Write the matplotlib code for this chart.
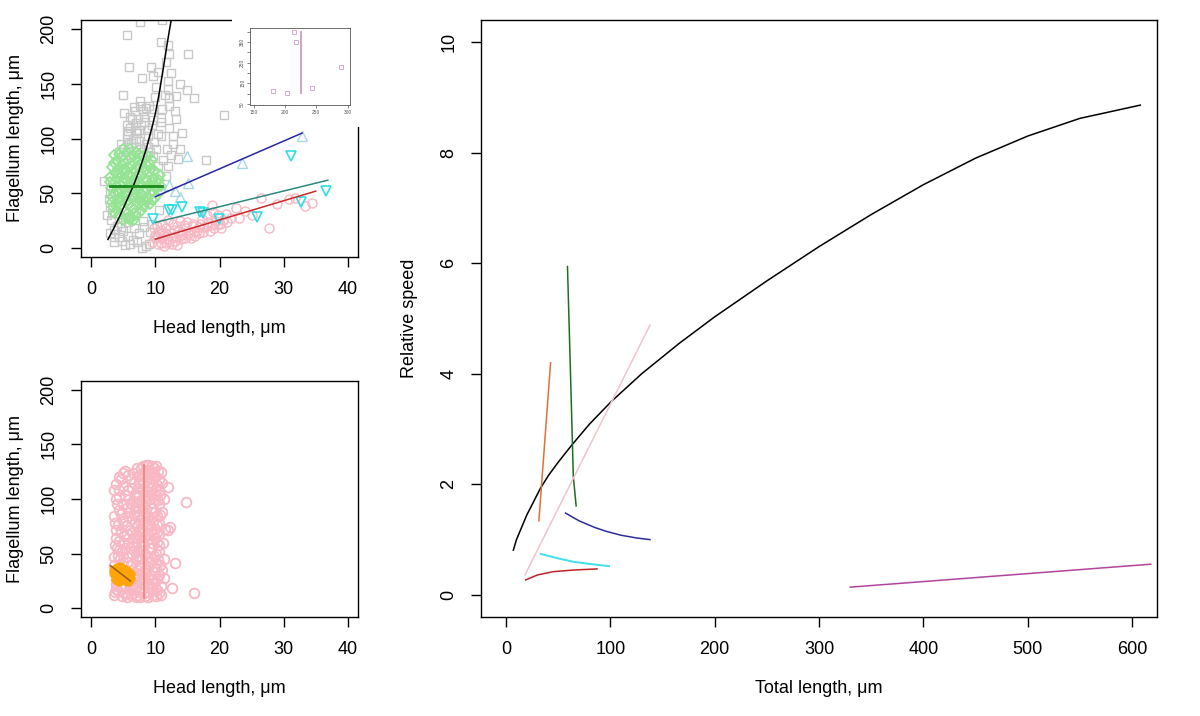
import numpy as np
import matplotlib
matplotlib.use("Agg")
import matplotlib.pyplot as plt

plt.rcParams['font.family'] = ['Liberation Sans', 'DejaVu Sans']

W, H = 1200, 716

# ---- top-left panel data (head length, flagellum length) ----
gray_sq = [(7.6,206),(11.0,208),(5.6,194.5),(15.1,177),(12.0,185),(12.2,177),(11.7,170),(5.9,165),
           (10.4,161),(9.6,157),(7.9,155),(12.0,152.6),(13.9,149.5),(14.9,144),(16.0,137),(13.2,139),
           (12.0,145),(12.1,137),(12.1,130),(10.1,146.5),(4.9,140),(7.6,134.6),(11.0,127),(5.1,123.5),
           (20.75,121),(6.7,129),(8.0,125),(9.6,126.6),(10.9,119),(12.1,110),(9.6,117),(5.7,106.7),
           (7.0,114),(7.5,108),(12.7,102),(10.4,103.7),(8.8,102),(9.8,96.6),(10.9,102),(10.1,90),
           (9.6,84),(12.4,85),(13.9,90),(10.4,74.6),(12.0,74.6),(17.9,80),(13.5,81),(2.0,61.5),
           (11.7,66),(9.0,70),(9.8,53),(9.3,44),(3.0,38),(3.3,32),(3.1,25.7),(7.75,39.4),(7.0,33),
           (5.2,28.7),(5.7,24),(3.6,16.5),(4.6,19.5),(6.7,18),(8.3,19.5),(9.1,15),(4.4,10.4),(5.7,11),
           (3.6,5.8),(5.2,2.8),(6.5,7.3),(7.9,0.6),(9.0,4.3),(9.9,11),(7.5,13.5),
           (5.0,90),(5.8,95),(6.5,100),(7.2,105),(6.0,110),(7.8,112),(8.5,95),(7.0,92),(6.4,118),
           (8.2,120),(5.5,100),(8.8,108),(9.5,112),(6.8,125),(7.4,98),(5.2,85),(8.0,88),(4.6,95),
           (9.2,88),(7.6,130),(6.2,85),(4.0,20),(3.5,10),(6.0,4),(4.8,7),(8.5,2),(7.2,6),(3.0,14),
           (5.0,16),(8.0,25),(9.5,22),(2.5,30),(9.6,60),(3.0,50),(2.7,45),(10.5,35),(11.2,80),
           (11.8,90),(12.8,95),(10.8,115),(11.5,140),(13.0,125),(9.3,165),(10.8,188),(12.4,160),
           (13.2,118),(14.2,105),(6.0,120),(8.3,115),(7.0,100),(9.0,130),(5.5,112),
           (6.2,96),(7.3,118),(8.6,128),(5.6,104),(6.9,108),(8.9,92),(4.3,88),(7.7,90),(9.9,138)]

green_dm = [(3.5,85),(4.0,80),(4.6,83),(5.2,78),(6.0,82),(7.0,80),(8.0,84),(9.0,78),(3.2,74),(4.2,72),
            (5.0,70),(5.8,74),(6.6,71),(7.5,73),(8.4,70),(9.3,72),(9.9,70),(10.7,67),(3.0,65),(3.8,63),
            (4.6,66),(5.4,62),(6.2,65),(7.0,62),(7.8,66),(8.6,63),(9.4,61),(10.2,60),(3.1,55),(3.9,57),
            (4.7,53),(5.5,56),(6.3,52),(7.1,55),(7.9,58),(8.7,54),(9.5,52),(10.3,55),(10.9,57),(3.3,47),
            (4.1,45),(4.9,48),(5.7,44),(6.5,47),(7.3,45),(8.1,48),(8.9,46),(9.6,44),(3.4,38),(4.2,40),
            (5.0,37),(5.8,39),(6.6,36),(7.4,40),(8.2,38),(3.6,32),(4.4,30),(5.2,34),(6.0,28),(6.6,32),
            (6.0,25.7),(5.6,42),(4.5,58),(6.8,60),(7.6,50),(5.3,50),(4.0,52),(8.5,60),(6.4,76),(4.8,76),
            (7.3,68),(5.9,66),(3.7,69),(9.8,64),(8.8,75),(7.0,88),(5.5,88),(4.3,50),(6.1,57),(7.7,43),
            (5.0,60),(8.3,52),(6.8,50),(4.4,64),(7.2,75),(5.6,70),
            (3.0,60),(3.6,78),(4.4,86),(5.0,90),(6.0,90),(7.5,86),(8.8,84),(9.5,80),(10.5,62),(10.8,52),
            (10.0,46),(9.2,40),(8.5,42),(7.8,34),(7.0,30),(6.6,26),(5.5,28),(4.9,26),(4.0,35),(3.2,42),
            (4.1,68),(4.9,72),(5.7,80),(6.7,84),(7.8,78),(8.2,74),(6.9,66),(5.8,49),(6.9,42),(7.5,57),
            (8.9,58),(9.8,56),(4.6,44),(3.6,50),(5.2,64),(6.3,61)]

pink_ci = [(9.5,6),(10.2,9),(10.8,5),(11.3,12),(11.9,8),(12.5,14),(13.0,10),(13.6,16),(14.2,12),
           (14.8,18),(15.3,14),(15.9,20),(16.5,16),(17.0,22),(17.6,19),(18.2,24),(18.8,21),(19.4,25),
           (20.0,22),(20.6,26),(21.2,24),(21.8,28),(10.5,15),(11.6,18),(12.2,6),(13.3,20),(14.0,8),
           (15.0,24),(16.2,11),(17.3,27),(18.5,16),(19.8,30),(10.0,12),(12.8,22),(14.5,21),(16.8,14),
           (11.0,22),(13.8,25),(15.6,9),(18.0,30),(19.0,33),(20.2,18),(20.6,25.7),(18.8,39.4),
           (22.5,36.4),(26.4,45.5),(27.7,18),(30.8,44.7),(33.3,38.5),(34.5,41.6),(24.0,34),(25.0,30),
           (23.0,28),(29.0,40),(31.8,46),(12.0,26),(9.8,18),(21.0,31),
           (10.4,4),(11.0,9),(11.7,5),(12.4,10),(13.1,7),(13.8,12),(14.6,9),(15.4,12),(16.0,16),
           (16.8,19),(17.4,15),(18.0,20),(19.1,18),(19.7,22),(10.3,20),(11.5,14),(12.9,17),(14.1,15),
           (15.8,22),(12.6,4),(13.4,3),(11.4,2),(9.9,9),(10.9,17)]

tri_up = [(12.1,58),(13.0,52),(13.8,47),(15.0,84),(15.1,59),(23.5,78),(32.8,102)]
tri_dn = [(9.7,26.6),(12.1,35),(12.6,35),(14.2,38),(17.0,33.3),(17.5,31.8),(19.9,27),(25.9,28.7),
          (31.1,84.4),(32.7,42.5),(36.6,52)]

fit_black_x = [2.6, 3.5, 4.5, 5.5, 6.5, 7.3, 8.0, 8.6, 9.1, 9.6, 10.0, 10.5, 10.9, 11.4, 11.8, 12.2, 12.5]
fit_black_y = [8, 18, 30, 43, 56, 68, 80, 91, 102, 113, 123, 138, 152, 170, 185, 199, 209]
fit_green_x, fit_green_y = [3.0, 11.1], [57, 57]
fit_blue_x, fit_blue_y = [10, 32.9], [47, 105]
fit_teal_x, fit_teal_y = [10, 36.9], [23.5, 62]
fit_red_x, fit_red_y = [10, 35], [8.3, 52]

# ---- inset ----
inset_pts = [(180,111),(203,102),(215,397),(217,351),(243,126),(290,230)]
inset_line_x, inset_line_y = [225, 225], [105, 400]

# ---- bottom-left panel ----
pink_bl = [(7.2,12),(7.8,18),(8.4,11),(9.0,15),(9.6,12),(10.2,17),(7.4,25),(8.1,28),(8.8,22),(9.4,27),
           (10.0,24),(10.5,30),(7.1,35),(7.7,40),(8.5,36),(9.2,42),(9.8,38),(10.4,44),(7.3,48),(8.0,52),
           (8.7,47),(9.5,55),(10.1,50),(7.0,60),(7.6,65),(8.3,58),(9.0,63),(9.7,68),(10.3,61),(7.4,72),
           (8.1,77),(8.9,74),(9.6,80),(10.2,76),(7.2,85),(7.9,90),(8.6,86),(9.3,92),(10.0,88),(10.6,95),
           (7.5,98),(8.2,103),(9.0,100),(9.8,105),(10.4,99),(7.3,110),(8.0,115),(8.8,112),(9.5,118),
           (10.2,113),(7.6,122),(8.4,126),(9.1,124),(9.8,128),(8.0,130),(8.8,131),(7.5,15),(8.6,32),
           (9.9,33),(7.8,57),(9.3,70),(8.0,84),(9.7,96),(8.5,107),(7.7,118),(10.0,121),(9.2,20),(7.9,45),
           (10.6,58),(8.4,66),(10.7,85),(7.0,20),(10.8,12),(7.1,92),(10.5,108),(9.1,82),(8.3,94),
           (9.4,110),(7.4,104),(10.3,70),(8.7,120),(7.2,128),(9.5,130),(10.4,126),
           (7.0,10),(7.6,10),(8.2,14),(8.9,10),(9.5,18),(10.1,11),(10.6,14),(7.3,30),(7.9,23),(8.5,25),
           (9.1,30),(9.7,22),(10.3,27),(7.5,37),(8.1,33),(8.9,38),(9.5,45),(10.1,37),(10.7,40),(7.1,52),
           (7.6,46),(8.4,50),(9.0,55),(9.8,48),(10.5,52),(7.3,64),(8.0,62),(8.7,68),(9.4,60),(10.0,64),
           (10.6,68),(7.1,75),(7.8,70),(8.5,80),(9.2,76),(9.9,73),(10.5,78),(7.5,81),(8.2,88),(8.9,84),
           (9.6,88),(10.3,84),(7.0,97),(7.7,95),(8.6,98),(9.3,104),(10.0,100),(10.7,104),(7.1,104),
           (7.9,108),(8.7,104),(9.6,113),(10.1,108),(7.4,115),(8.3,120),(9.1,116),(9.8,122),(10.5,118),
           (7.3,121),(8.1,124),(8.9,127),(9.6,125),(10.1,130),(8.5,131),(7.7,128),
           (3.6,12),(4.2,16),(4.8,11),(5.5,14),(6.2,12),(6.8,17),(3.8,22),(4.5,45),(5.2,20),(5.9,24),
           (6.6,22),(3.5,40),(4.1,48),(4.8,52),(5.6,47),(6.3,50),(6.9,45),(3.7,58),(4.4,62),(5.1,66),
           (5.8,60),(6.5,64),(3.9,72),(4.6,70),(5.4,75),(6.1,72),(6.8,78),(3.5,84),(4.3,90),(5.0,95),
           (6.0,88),(6.6,97),(3.8,100),(4.4,108),(5.2,104),(6.4,110),(3.9,114),(4.6,118),(5.3,126),
           (4.4,120),(6.2,118),(3.7,78),(5.7,84),(4.0,30),(6.4,35),(6.7,28),(5.0,42),(6.0,55),(4.0,55),
           (6.9,68),(6.3,82),(5.9,100),(6.8,105),(6.5,124),(3.8,18),(5.6,10),
           (3.7,15),(4.5,20),(5.2,13),(6.0,18),(6.5,14),(3.9,26),(4.8,40),(5.5,42),(6.2,40),(3.6,47),
           (4.4,53),(5.3,55),(6.5,57),(3.8,64),(4.9,60),(5.6,68),(6.3,70),(4.2,76),(5.0,80),(6.6,85),
           (4.7,86),(5.5,92),(6.2,95),(4.0,95),(6.8,92),(5.0,112),(5.8,108),(4.3,102),(4.9,124),
           (3.6,108),(5.8,122),(6.6,115),
           (10.8,20),(11.0,35),(11.2,60),(11.5,73),(11.9,111),(12.3,74),(12.0,72),(12.6,19),(13.0,41),
           (14.7,97),(16.1,14),(11.3,100),(11.1,115),(10.9,125),(11.4,45),(11.0,88),(11.3,28)]
orange_pts = [(3.5,35),(4.0,37),(4.5,34),(5.0,33),(5.5,30),(6.0,28),(3.8,30),(4.3,29),(4.8,27),(5.3,26),
              (5.8,25),(4.2,32),(4.7,31),(5.2,29),(3.6,32),(4.5,38),(5.0,36),(5.5,34),(3.9,27),(4.4,25),
              (6.1,31)]
salmon_x, salmon_y = [8.3, 8.3], [9, 131]
orange_fit_x, orange_fit_y = [3.0, 6.1], [39, 25]

# ---- right panel: relative speed vs total length ----
sp_black_x = [7, 10, 14, 20, 26, 33, 41, 50, 63, 80, 101, 130, 166, 200, 250, 300, 350, 400, 450, 500, 550, 608]
sp_black_y = [0.81, 1.0, 1.18, 1.45, 1.67, 1.93, 2.17, 2.4, 2.71, 3.09, 3.5, 4.0, 4.55, 5.03, 5.68, 6.3,
              6.88, 7.42, 7.9, 8.3, 8.62, 8.86]
sp_orange_x, sp_orange_y = [31.5, 42.7], [1.34, 4.2]
sp_dgreen_x, sp_dgreen_y = [58.9, 61.8, 64.5, 67.2], [5.94, 4.0, 2.14, 1.61]
sp_pink_x, sp_pink_y = [18.1, 138], [0.36, 4.88]
sp_navy_x, sp_navy_y = [57, 70, 85, 96, 110, 125, 138], [1.48, 1.34, 1.22, 1.15, 1.08, 1.03, 1.0]
sp_cyan_x, sp_cyan_y = [33.4, 50, 64.3, 80, 98.7], [0.74, 0.66, 0.60, 0.56, 0.52]
sp_dred_x, sp_dred_y = [18.8, 30, 45.2, 65, 87.2], [0.27, 0.36, 0.42, 0.45, 0.47]
sp_purple_x, sp_purple_y = [330, 618], [0.14, 0.555]


def px_axes(l, t, r, b, **kw):
    return fig.add_axes([l / W, 1 - b / H, (r - l) / W, (b - t) / H], **kw)


def r_style(ax, fs=13, pad=10):
    for s in ax.spines.values():
        s.set_linewidth(1.0)
    ax.tick_params(direction='out', length=7, width=1, labelsize=fs, pad=pad)
    ax.tick_params(axis='y', labelrotation=90)
    for lab in ax.get_yticklabels():
        lab.set_va('center')


def xy(pts):
    return [p[0] for p in pts], [p[1] for p in pts]


fig = plt.figure(figsize=(W / 100, H / 100), dpi=100)

# top-left
ax1 = px_axes(81, 20, 358, 257)
x, y = xy(gray_sq)
ax1.plot(x, y, 's', ms=6, mfc='none', mec='#C8C8C8', mew=1)
x, y = xy(green_dm)
ax1.plot(x, y, 'D', ms=5.5, mfc='none', mec='#94E494', mew=1.3)
x, y = xy(pink_ci)
ax1.plot(x, y, 'o', ms=6.5, mfc='none', mec='#F7B8C4', mew=1)
x, y = xy(tri_up)
ax1.plot(x, y, '^', ms=7, mfc='none', mec='#A8D8E8', mew=1)
x, y = xy(tri_dn)
ax1.plot(x, y, 'v', ms=7, mfc='none', mec='#30DDE4', mew=1.2)
ax1.plot(fit_black_x, fit_black_y, color='black', lw=1.1)
ax1.plot(fit_green_x, fit_green_y, color='#1C8A1C', lw=2)
ax1.plot(fit_blue_x, fit_blue_y, color='#2626A8', lw=1.1)
ax1.plot(fit_teal_x, fit_teal_y, color='#2B8A7C', lw=1.1)
ax1.plot(fit_red_x, fit_red_y, color='#C82828', lw=1.1)
ax1.set_xlim(-1.6, 41.6)
ax1.set_ylim(-8, 208)
ax1.set_xticks([0, 10, 20, 30, 40])
ax1.set_yticks([0, 50, 100, 150, 200])
r_style(ax1)
ax1.set_xlabel('Head length, μm', fontsize=13, labelpad=16)
ax1.set_ylabel('Flagellum length, μm', fontsize=13, labelpad=12)

# inset, on a white patch that hides the corner of the top-left panel
cover = px_axes(232, 0, 362, 127)
cover.set_facecolor('white')
cover.set_xticks([])
cover.set_yticks([])
for s in cover.spines.values():
    s.set_visible(False)
ins = px_axes(250, 28, 350, 105)
x, y = xy(inset_pts)
ins.plot(x, y, 's', ms=2.5, mfc='none', mec='#D8ABD3', mew=0.7)
ins.plot(inset_line_x, inset_line_y, color='#C89CC8', lw=1.3)
ins.set_xlim(144, 304)
ins.set_ylim(45, 418)
ins.set_xticks([150, 200, 250, 300])
ins.set_yticks([50, 100, 150, 200, 250, 300, 350, 400])
ins.set_yticklabels(['50', '', '150', '', '250', '', '350', ''])
for s in ins.spines.values():
    s.set_linewidth(0.6)
    s.set_color('#555555')
ins.tick_params(direction='out', length=2, width=0.5, labelsize=3.5, pad=1.5, colors='#555555')
ins.tick_params(axis='y', labelrotation=90)
for lab in ins.get_yticklabels():
    lab.set_va('center')

# bottom-left
ax2 = px_axes(81, 381, 358, 617)
x, y = xy(pink_bl)
ax2.plot(x, y, 'o', ms=7, mfc='none', mec='#F7B8C4', mew=1.3)
x, y = xy(orange_pts)
ax2.plot(x, y, 'o', ms=6.5, color='#FFA50A')
ax2.plot(orange_fit_x, orange_fit_y, color='#9A5A1A', lw=1.1)
ax2.plot(salmon_x, salmon_y, color='#EE7A68', lw=1.1)
ax2.set_xlim(-1.6, 41.6)
ax2.set_ylim(-8, 208)
ax2.set_xticks([0, 10, 20, 30, 40])
ax2.set_yticks([0, 50, 100, 150, 200])
r_style(ax2)
ax2.set_xlabel('Head length, μm', fontsize=13, labelpad=16)
ax2.set_ylabel('Flagellum length, μm', fontsize=13, labelpad=12)

# right
ax3 = px_axes(481, 20, 1157, 617)
ax3.plot(sp_black_x, sp_black_y, color='black', lw=1.1)
ax3.plot(sp_orange_x, sp_orange_y, color='#E0703A', lw=1.1)
ax3.plot(sp_dgreen_x, sp_dgreen_y, color='#1E6E1E', lw=1.1)
ax3.plot(sp_pink_x, sp_pink_y, color='#F2C4CC', lw=1.1)
ax3.plot(sp_navy_x, sp_navy_y, color='#2C2C9C', lw=1.1)
ax3.plot(sp_cyan_x, sp_cyan_y, color='#40E0E4', lw=1.4)
ax3.plot(sp_dred_x, sp_dred_y, color='#B82424', lw=1.1)
ax3.plot(sp_purple_x, sp_purple_y, color='#B2449C', lw=1.1)
ax3.set_xlim(-24, 624)
ax3.set_ylim(-0.4, 10.4)
ax3.set_xticks([0, 100, 200, 300, 400, 500, 600])
ax3.set_yticks([0, 2, 4, 6, 8, 10])
r_style(ax3)
ax3.set_xlabel('Total length, μm', fontsize=13, labelpad=16)
ax3.set_ylabel('Relative speed', fontsize=13, labelpad=16)

fig.savefig('out.png', dpi=100)
